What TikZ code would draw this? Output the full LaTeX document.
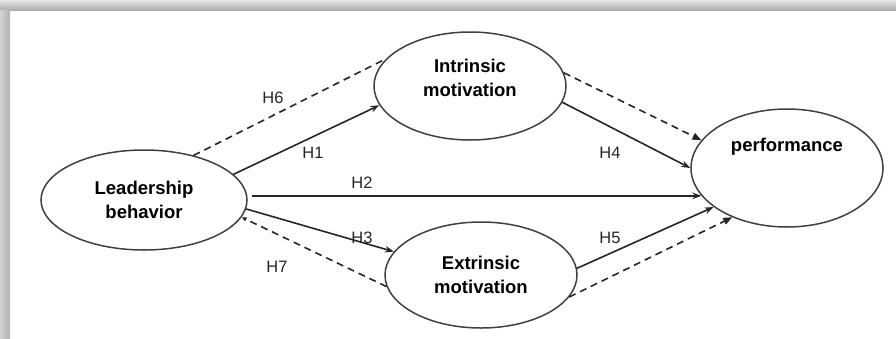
\documentclass[tikz,border=0pt]{standalone}
\usepackage{fontspec}
\setmainfont{Liberation Sans}
\usetikzlibrary{shapes.geometric,arrows.meta}

\begin{document}
\begin{tikzpicture}[
  x=1pt,y=-1pt,
  construct/.style={draw=black!75,line width=1.5pt,ellipse,inner sep=0pt,align=center,
    font=\bfseries\fontsize{18.5}{24}\selectfont},
  hyp/.style={font=\fontsize{16.5}{18}\selectfont,text=black!85},
  link/.style={draw=black!85,line width=1.6pt},
  arr/.style={link,-{Stealth[length=9pt,width=6.5pt]}},
  dline/.style={link,dash pattern=on 7pt off 5pt},
  darr/.style={dline,-{Triangle[length=9pt,width=7pt]}}
]
\useasboundingbox (0,0) rectangle (896,338);
\shade[top color=gray!20,bottom color=gray!65] (0,0) rectangle (896,10);
\shade[left color=gray!35,right color=gray!60] (0,10) rectangle (10,338);

\node[construct,minimum width=206pt,minimum height=100pt] (lead) at (144,200) {Leadership\\behavior};
\node[construct,minimum width=192pt,minimum height=108pt,text depth=17pt] (intr) at (470,86) {Intrinsic\\motivation};
\node[construct,minimum width=192pt,minimum height=106pt] (extr) at (481,275) {Extrinsic\\motivation};
\node[construct,minimum width=192pt,minimum height=118pt,text height=14pt,text depth=48pt] (perf) at (787,168) {performance};

\path (lead.42) edge[dline] (intr.162)
(lead.16) edge[arr] (intr.192)
(lead.east |- perf.198) edge[arr,shorten <=4pt] (perf.198)
(lead.-5) edge[arr] (extr.165)
(extr.187) edge[dline,-{Triangle[length=5pt,width=4pt]}] (lead.-10)
(intr.-10) edge[arr] (perf.west)
(intr.8) edge[darr] (perf.162)
(extr.4) edge[arr] (perf.208)
(extr.-14) edge[darr] (perf.222)
;

\node[hyp] (h6) at (273,98) {H6};
\node[hyp] (h1) at (313,153) {H1};
\node[hyp] (h2) at (362,183) {H2};
\node[hyp] (h3) at (362,238) {H3};
\node[hyp] (h7) at (277,267) {H7};
\node[hyp] (h4) at (610,153) {H4};
\node[hyp] (h5) at (610,238) {H5};
\end{tikzpicture}
\end{document}
